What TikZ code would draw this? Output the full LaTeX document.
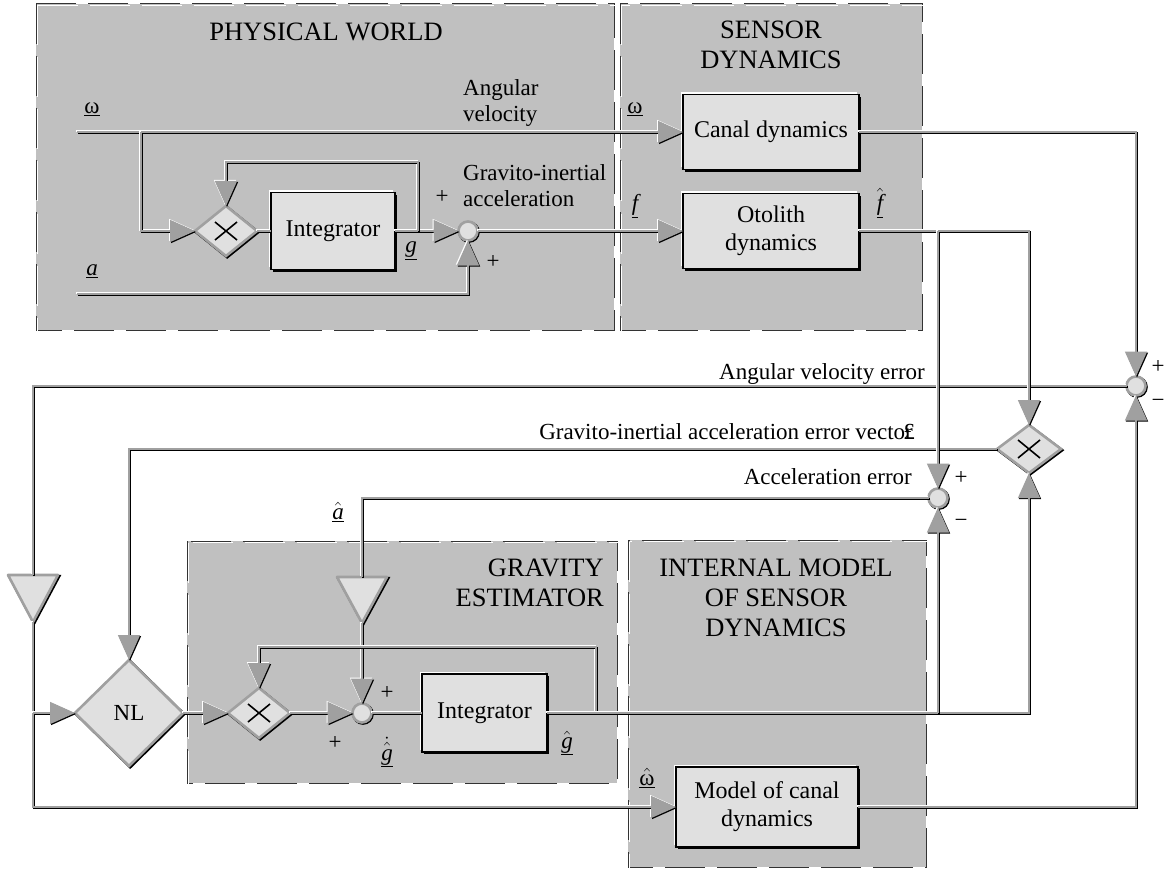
\documentclass[tikz,border=0pt]{standalone}
\usepackage{fontspec}
\setmainfont{Liberation Serif}
\usetikzlibrary{arrows.meta,shapes.geometric}
\definecolor{panelgray}{HTML}{C0C0C0}
\definecolor{boxfill}{HTML}{E0E0E0}
\definecolor{wiregray}{HTML}{A0A0A0}
\tikzset{
  wire/.style={draw=wiregray, line width=1.4pt,
     preaction={draw=white, line width=1.4pt, transform canvas={shift={(-1pt,1pt)}}},
     preaction={draw=black, line width=1.4pt, transform canvas={shift={(1pt,-1pt)}}}},
  arr/.style={wire, -{Triangle[length=25pt,width=22pt]}},
  panel/.style={fill=panelgray, draw=black!80, line width=1pt, dash pattern=on 40pt off 12pt,
     postaction={draw=white, line width=1pt, dash pattern=on 40pt off 12pt, transform canvas={shift={(1.5pt,-1.5pt)}}}},
  box/.style={rectangle, draw=black, fill=boxfill, line width=1.3pt, inner sep=0pt, outer sep=0pt, align=center,
     font=\fontsize{24}{28}\selectfont,
     preaction={fill=white, transform canvas={shift={(-2.2pt,2.2pt)}}},
     preaction={fill=black, transform canvas={shift={(2.2pt,-2.2pt)}}}},
  mul/.style={diamond, minimum width=62pt, minimum height=50pt, inner sep=0pt, outer sep=0pt,
     fill=boxfill, draw=wiregray, line width=2.6pt,
     preaction={draw=black, line width=2.6pt, transform canvas={shift={(1.2pt,-1.2pt)}}},
     path picture={
       \draw[black,line width=1.6pt] ([shift={(-11pt,9pt)}]path picture bounding box.center) -- ([shift={(11pt,-9pt)}]path picture bounding box.center);
       \draw[black,line width=1.6pt] ([shift={(-11pt,-9pt)}]path picture bounding box.center) -- ([shift={(11pt,9pt)}]path picture bounding box.center);}},
  nlsty/.style={diamond, minimum width=108pt, minimum height=106pt, inner sep=0pt, outer sep=0pt,
     fill=boxfill, draw=wiregray, line width=2.6pt, font=\fontsize{23}{27}\selectfont,
     preaction={draw=black, line width=2.6pt, transform canvas={shift={(1.2pt,-1.2pt)}}}},
  sum/.style={circle, minimum size=19pt, inner sep=0pt, outer sep=0pt, fill=boxfill, draw=wiregray, line width=2.6pt,
     preaction={draw=black, line width=2.6pt, transform canvas={shift={(1pt,-1pt)}}}},
  gain/.style={fill=boxfill, draw=wiregray, line width=2.6pt, line join=round,
     preaction={draw=black, line width=2.6pt, transform canvas={shift={(1.2pt,-1.2pt)}}}},
  lab/.style={inner sep=0pt, font=\fontsize{23}{26}\selectfont},
  ttl/.style={inner sep=0pt, align=center, font=\fontsize{26.5}{30}\selectfont},
}
\begin{document}
\begin{tikzpicture}[x=1pt,y=-1pt]
\useasboundingbox (0,0) rectangle (1168,872);
\fill[white] (0,0) rectangle (1168,872);

% panels
\path[panel] (36,4) rectangle (614,330);
\path[panel] (620,4) rectangle (922,330);
\path[panel] (187,541) rectangle (617,783);
\path[panel] (628,540) rectangle (926,867);

% titles
\node[ttl] (tpw) at (326,32) {PHYSICAL WORLD};
\node[ttl] (tsd) at (771,45) {SENSOR\\DYNAMICS};
\node[ttl, align=right, anchor=east] (tge) at (604,582.5) {GRAVITY\\ESTIMATOR};
\node[ttl] (tim) at (776,598) {INTERNAL MODEL\\OF SENSOR\\DYNAMICS};

% blocks
\node[box, minimum width=176pt, minimum height=75pt] (canal) at (771,132) {Canal dynamics};
\node[box, minimum width=176pt, minimum height=75pt] (oto) at (771,231) {Otolith\\dynamics};
\node[box, minimum width=124pt, minimum height=77pt] (int1) at (333,231) {Integrator};
\node[box, minimum width=125pt, minimum height=78pt] (int2) at (484.5,713) {Integrator};
\node[box, minimum width=182pt, minimum height=80pt] (model) at (767,807) {Model of canal\\dynamics};

\node[mul] (m1) at (226,231) {};
\node[mul, minimum width=64pt, minimum height=48pt] (m2) at (1029,449) {};
\node[mul] (m3) at (259,713) {};
\node[nlsty] (nl) at (129,713) {NL};

\node[sum] (s1) at (468,231) {};
\node[sum] (sA) at (1136,386) {};
\node[sum] (sB) at (938,498) {};
\node[sum] (s2) at (362,713) {};

% gains
\coordinate (gLtop) at (33,575);
\coordinate (gLtip) at (33,622);
\coordinate (gRtop) at (362,577);
\coordinate (gRtip) at (362,623);
\path[gain] (8,575) -- (58,575) -- (gLtip) -- cycle;
\path[gain] (337,577) -- (387,577) -- (gRtip) -- cycle;

% auxiliary points
\coordinate (wIn) at (77,132);
\coordinate (aIn) at (77,294);
\coordinate (wBr) at (141,132);
\coordinate (fb1) at (418,231);
\coordinate (fb1top) at (418,162);
\coordinate (fhBr) at (938,231);
\coordinate (gBr) at (938,713);
\coordinate (fb2) at (596,713);
\coordinate (fb2top) at (596,647);
\coordinate (nlBr) at (33,713);

% horizontal error lines
\draw[wire] (sA.west) -| (gLtop);
\draw[arr] (m2.west) -| (nl.north);
\draw[wire] (sB.west) -| (gRtop);

% physical world
\draw[arr] (wIn) -- (canal.west);
\draw[arr] (wBr) |- (m1.west);
\draw[wire] (m1.east) -- (int1.west);
\draw[arr] (int1.east) -- (s1.west);
\draw[arr] (fb1) -- (fb1top) -| (m1.north);
\draw[arr] (aIn) -| (s1.south);
\draw[arr] (s1.east) -- (oto.west);

% sensor outputs
\draw[arr] (canal.east) -| (sA.north);
\draw[arr] (oto.east) -| (m2.north);
\draw[arr] (fhBr) -- (sB.north);

% estimator
\draw[arr] (gLtip) |- (model.west);
\draw[arr] (nlBr) -- (nl.west);
\draw[arr] (gRtip) -- (s2.north);
\draw[arr] (nl.east) -- (m3.west);
\draw[arr] (m3.east) -- (s2.west);
\draw[wire] (s2.east) -- (int2.west);
\draw[arr] (fb2) -- (fb2top) -| (m3.north);
\draw[arr] (int2.east) -| (m2.south);
\draw[arr] (gBr) -- (sB.south);
\draw[arr] (model.east) -| (sA.south);

% labels
\node[lab] (lw) at (92,109) {\underline{ω}};
\node[lab] (la) at (92,271) {\underline{\itshape a}};
\node[lab, align=left, anchor=west] (lav) at (463,103) {Angular\\velocity};
\node[lab, align=left, anchor=west] (lgi) at (463,186) {Gravito-inertial\\acceleration};
\node[lab] (lw2) at (635,109) {\underline{ω}};
\node[lab] (lf) at (635,206) {\underline{\itshape f}};
\node[lab] (lfh) at (880,203) {$\underline{\hat{\mbox{\itshape f}}}$};
\node[lab] (lg) at (411,251) {\underline{\itshape g}};
\node[lab] (lah) at (338,512) {$\underline{\hat{\mbox{\itshape a}}}$};
\node[lab] (lgd) at (387,752) {$\underline{\dot{\hat{\mbox{\itshape g}}}}$};
\node[lab] (lgh) at (567,743) {$\underline{\hat{\mbox{\itshape g}}}$};
\node[lab] (lwh) at (647,778) {$\underline{\hat{\mbox{ω}}}$};

\node[lab, anchor=base east] (lave) at (925,379) {Angular velocity error};
\node[lab, anchor=base east] (lgie) at (913,439) {Gravito-inertial acceleration error vector};
\node[lab, anchor=base east] (leps) at (915,439) {£};
\node[lab, anchor=base east] (lace) at (912,484) {Acceleration error};

\node[lab] (sg1) at (442,197) {+};
\node[lab] (sg2) at (493,262) {+};
\node[lab] (sg3) at (1158,367) {+};
\node[lab] (sg4) at (1158,403) {−};
\node[lab] (sg5) at (961,478) {+};
\node[lab] (sg6) at (961,523) {−};
\node[lab] (sg7) at (387,693) {+};
\node[lab] (sg8) at (335,743) {+};
\end{tikzpicture}
\end{document}
